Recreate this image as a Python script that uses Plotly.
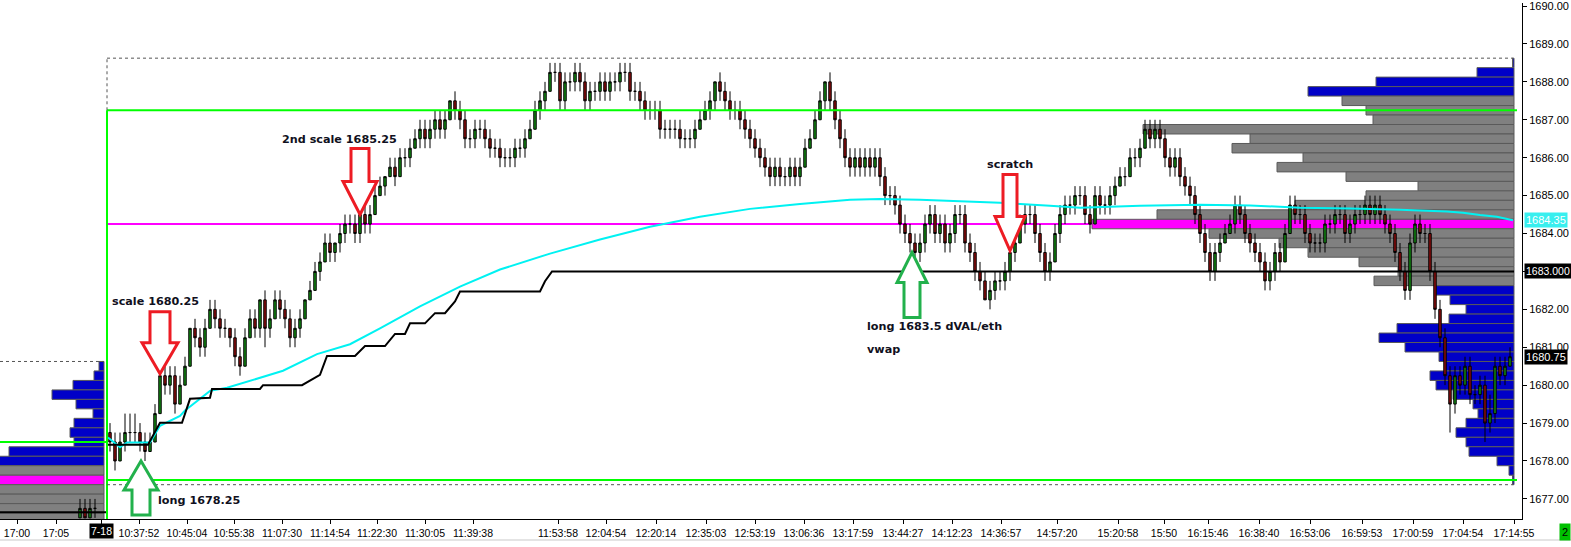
import plotly.graph_objects as go

# ---------------- data ----------------
TICK = 0.25
BASE_PRICE = 1677.0

# session bars: closes in quarter-point ticks above 1677.00
first_open_tick = 7
close_ticks = [
    6, 4, 6, 7, 7, 7, 6, 5, 6, 9,
    13, 12, 13, 10, 12, 14, 18, 17, 16, 18,
    20, 19, 18, 18, 17, 15, 14, 17, 19, 18,
    21, 18, 19, 21, 20, 19, 17, 18, 19, 21,
    22, 24, 25, 27, 26, 27, 28, 29, 29, 28,
    30, 29, 30, 32, 33, 34, 35, 34, 36, 36,
    37, 38, 39, 38, 39, 40, 39, 40, 42, 41,
    40, 38, 38, 39, 39, 38, 37, 37, 36, 36,
    36, 37, 37, 38, 39, 41, 42, 43, 45, 45,
    42, 44, 44, 45, 44, 42, 43, 43, 44, 43,
    44, 44, 45, 45, 43, 43, 42, 41, 41, 41,
    39, 39, 39, 39, 38, 38, 38, 39, 40, 41,
    42, 44, 43, 42, 41, 41, 40, 39, 38, 37,
    36, 35, 34, 35, 34, 34, 35, 34, 35, 37,
    38, 40, 42, 44, 42, 40, 38, 36, 35, 36,
    35, 36, 35, 36, 34, 32, 32, 31, 29, 28,
    27, 26, 27, 29, 30, 28, 29, 27, 28, 30,
    30, 27, 26, 24, 23, 21, 22, 23, 23, 24,
    26, 27, 29, 30, 30, 28, 26, 24, 25, 28,
    30, 31, 31, 32, 32, 30, 29, 32, 31, 31,
    32, 33, 34, 34, 36, 36, 37, 39, 38, 39,
    38, 36, 35, 36, 34, 33, 32, 30, 28, 26,
    24, 26, 27, 28, 29, 31, 30, 28, 27, 26,
    25, 23, 24, 26, 25, 28, 31, 30, 30, 28,
    27, 27, 27, 29, 29, 30, 30, 28, 29, 30,
    30, 31, 30, 31, 30, 29, 28, 26, 24, 22,
    27, 29, 28, 28, 24, 20, 17, 13, 10, 13,
    12, 14, 11, 11, 12, 8, 9, 14, 13, 14, 15,
]
# upper / lower wick length (ticks beyond the body)
hi_ext = [
    1, 1, 1, 2, 2, 2, 1, 1, 1, 1,
    0, 1, 1, 1, 1, 1, 0, 1, 1, 1,
    1, 1, 1, 1, 0, 1, 1, 1, 1, 1,
    0, 1, 1, 1, 1, 1, 1, 1, 1, 0,
    1, 1, 1, 1, 1, 0, 1, 1, 1, 1,
    1, 1, 1, 1, 1, 0, 1, 1, 1, 1,
    1, 1, 1, 1, 1, 1, 1, 1, 0, 1,
    1, 1, 1, 1, 1, 1, 1, 1, 1, 1,
    1, 1, 1, 1, 1, 1, 1, 1, 1, 1,
    1, 1, 1, 1, 1, 1, 1, 1, 1, 1,
    1, 1, 1, 1, 1, 1, 1, 1, 1, 1,
    1, 1, 1, 1, 1, 1, 1, 1, 1, 1,
    1, 0, 1, 1, 1, 1, 1, 1, 1, 1,
    1, 1, 1, 1, 1, 1, 1, 1, 1, 1,
    1, 1, 1, 0, 1, 1, 1, 1, 1, 1,
    1, 1, 1, 1, 1, 1, 1, 1, 1, 1,
    1, 1, 1, 1, 1, 1, 1, 1, 1, 1,
    1, 1, 1, 1, 1, 1, 1, 1, 1, 1,
    1, 1, 1, 1, 1, 1, 1, 1, 1, 1,
    1, 1, 1, 1, 1, 1, 1, 1, 1, 1,
    1, 1, 1, 1, 1, 1, 1, 1, 1, 1,
    1, 1, 1, 1, 1, 1, 1, 1, 1, 1,
    1, 1, 1, 1, 1, 1, 1, 1, 1, 1,
    1, 1, 1, 1, 1, 1, 1, 1, 1, 1,
    1, 1, 1, 1, 1, 1, 1, 1, 1, 1,
    1, 1, 1, 1, 1, 1, 1, 1, 1, 1,
    1, 1, 1, 1, 1, 1, 1, 1, 1, 1,
    1, 1, 1, 1, 1, 1, 2, 1, 1, 1, 1,
]
lo_ext = [
    1, 1, 0, 1, 1, 1, 1, 1, 0, 0,
    0, 1, 1, 1, 0, 0, 0, 1, 1, 1,
    0, 1, 1, 1, 1, 1, 1, 0, 0, 1,
    1, 2, 1, 0, 1, 1, 1, 1, 1, 0,
    0, 0, 1, 0, 1, 1, 1, 1, 1, 1,
    1, 1, 1, 0, 0, 1, 0, 1, 0, 1,
    1, 0, 1, 1, 1, 1, 1, 1, 0, 1,
    1, 1, 1, 1, 1, 1, 1, 1, 1, 1,
    1, 1, 1, 1, 0, 0, 1, 1, 0, 1,
    1, 1, 1, 1, 1, 1, 1, 1, 1, 1,
    1, 1, 1, 1, 1, 1, 1, 1, 1, 1,
    1, 1, 1, 1, 1, 1, 1, 1, 0, 0,
    1, 1, 1, 1, 1, 1, 1, 1, 1, 1,
    1, 1, 1, 1, 1, 1, 1, 1, 1, 0,
    0, 0, 0, 1, 1, 1, 1, 1, 1, 1,
    1, 1, 1, 1, 1, 1, 1, 1, 1, 1,
    1, 1, 1, 1, 1, 1, 1, 1, 1, 1,
    1, 1, 1, 1, 1, 0, 1, 1, 1, 1,
    1, 1, 0, 1, 1, 1, 1, 1, 1, 0,
    1, 1, 1, 1, 1, 1, 1, 0, 1, 1,
    1, 1, 0, 1, 0, 1, 1, 0, 1, 1,
    1, 1, 1, 1, 1, 1, 1, 1, 1, 1,
    1, 1, 1, 0, 0, 1, 1, 1, 1, 1,
    1, 1, 1, 1, 1, 0, 0, 1, 1, 1,
    1, 1, 1, 1, 1, 1, 1, 1, 1, 1,
    1, 1, 1, 1, 1, 1, 1, 1, 1, 1,
    1, 1, 1, 1, 1, 1, 1, 1, 3, 1,
    1, 1, 1, 1, 1, 2, 1, 1, 1, 1, 0,
]

# last bars of the previous session
prev_bar = [-6, -5, -4, -3]
prev_open = [1676.50, 1676.75, 1676.50, 1676.75]
prev_close = [1676.75, 1676.50, 1676.75, 1676.75]
prev_high = [1677.00, 1677.00, 1677.00, 1677.00]
prev_low = [1676.50, 1676.50, 1676.50, 1676.50]

# VWAP (cyan)
vwap_bar = [-0.4, 2, 3.4, 8, 10, 14, 15, 20, 23.4, 28, 34.6, 41.4, 48, 54, 62, 70, 78,
            88, 98, 108, 118, 128, 138, 148, 154, 162, 178, 188, 194, 206, 218, 228,
            238, 248, 258, 267.4, 270.6, 274, 277.4, 280.6]
vwap_price = [1678.62, 1678.36, 1678.49, 1678.49, 1678.93, 1679.19, 1679.33, 1679.85,
              1679.93, 1680.11, 1680.38, 1680.82, 1681.08, 1681.50, 1682.08, 1682.60,
              1683.05, 1683.47, 1683.84, 1684.18, 1684.44, 1684.65, 1684.78, 1684.89,
              1684.91, 1684.89, 1684.81, 1684.73, 1684.68, 1684.73, 1684.76, 1684.74,
              1684.68, 1684.66, 1684.63, 1684.58, 1684.55, 1684.49, 1684.44, 1684.35]

# developing value-area low (black step line)
dval_bar = [-22, -0.6, -0.6, 7.6, 10, 14.4, 16, 20, 20.4, 30, 30.6, 38.4, 42, 43.4, 49,
            51, 55, 57, 59, 60, 63, 65, 67, 69, 70, 86, 87, 88.4, 280.8]
dval_price = [1676.65, 1676.65, 1678.43, 1678.43, 1679.01, 1679.01, 1679.64, 1679.67,
              1679.90, 1679.90, 1680.00, 1680.00, 1680.27, 1680.77, 1680.77, 1681.03,
              1681.03, 1681.35, 1681.35, 1681.63, 1681.63, 1681.90, 1681.90, 1682.21,
              1682.47, 1682.47, 1682.74, 1683.00, 1683.00]

# session volume profile
profile_price = [1688.50, 1688.25, 1688.00, 1687.75, 1687.50, 1687.25, 1687.00, 1686.75,
                 1686.50, 1686.25, 1686.00, 1685.75, 1685.50, 1685.25, 1685.00, 1684.75,
                 1684.50, 1684.25, 1684.00, 1683.75, 1683.50, 1683.25, 1683.00, 1682.75,
                 1682.50, 1682.25, 1682.00, 1681.75, 1681.50, 1681.25, 1681.00, 1680.75,
                 1680.50, 1680.25, 1680.00, 1679.75, 1679.50, 1679.25, 1679.00, 1678.75,
                 1678.50, 1678.25, 1678.00, 1677.75, 1677.50]
profile_volume = [1.5, 37, 138, 206, 172, 148, 141, 371, 264, 282, 211, 237, 168, 96, 148,
                  219, 357, 422, 305, 235, 206, 155, 116, 140, 78, 64, 48, 65, 117, 135,
                  109, 75, 69, 84, 78, 61, 41, 36, 48, 58, 48, 45, 17, 5, 1.5]
value_area = (1682.75, 1687.50)
poc_price = 1684.25

# previous-session profile
prev_profile_price = [1680.50, 1680.25, 1680.00, 1679.75, 1679.50, 1679.25, 1679.00,
                      1678.75, 1678.50, 1678.25, 1678.00, 1677.75, 1677.50, 1677.25,
                      1677.00, 1676.75, 1676.50]
prev_profile_volume = [5, 10, 31, 52, 28, 11, 30, 34, 30, 95, 112, 130, 130, 130, 130, 130, 130]
prev_value_area = (1676.50, 1677.75)
prev_poc = 1677.50

# key levels
session_high = 1688.50
session_low = 1677.50
green_high = 1687.25
green_low = 1677.50
prev_green = 1678.50
prev_session_high = 1680.50
last_price = 1680.75
vwap_last = 1684.35
dval_last = 1683.00

time_bar = [-18.6, -10.8, -1.8, 5.8, 15.4, 24.8, 34.4, 44, 53.4, 63, 72.6, 89.6, 99.2,
            109.2, 119.2, 129, 138.8, 148.6, 158.6, 168.4, 178.2, 189.4, 201.6, 210.8,
            219.6, 229.8, 240, 250.4, 260.6, 270.6, 280.8]
time_labels = ["17:00", "17:05", "7-18", "10:37:52", "10:45:04", "10:55:38", "11:07:30",
               "11:14:54", "11:22:30", "11:30:05", "11:39:38", "11:53:58", "12:04:54",
               "12:20:14", "12:35:03", "12:53:19", "13:06:36", "13:17:59", "13:44:27",
               "14:12:23", "14:36:57", "14:57:20", "15:20:58", "15:50", "16:15:46",
               "16:38:40", "16:53:06", "16:59:53", "17:00:59", "17:04:54", "17:14:55"]
price_ticks = [1677, 1678, 1679, 1680, 1681, 1682, 1683, 1684, 1685, 1686, 1687, 1688, 1689, 1690]

notes = [  # text, bar, price
    ("2nd scale 1685.25", 34.0, 1686.49),
    ("scale 1680.25", 0.0, 1682.21),
    ("long 1678.25", 9.2, 1676.97),
    ("long 1683.5 dVAL/eth", 151.0, 1681.56),
    ("vwap", 151.0, 1680.95),
    ("scratch", 175.0, 1685.83),
]
arrows = [  # bar, price, direction, colour
    (10.0, 1680.30, "down", "#ed1c24"),
    (50.0, 1684.50, "down", "#ed1c24"),
    (6.2, 1678.00, "up", "#22b14c"),
    (160.4, 1683.50, "up", "#22b14c"),
    (180.0, 1683.55, "down", "#ed1c24"),
]
arrow_sizes = [(18, 10, 31, 62), (17, 9, 33, 66), (17, 9, 29, 54), (15, 8, 30, 65), (15, 7, 34, 76)]

# ---------------- layout constants ----------------
X_MIN, X_MAX = -22.0, 282.4
Y_MIN, Y_MAX = 1676.47, 1690.08
SESSION_START = -0.6
PROFILE_RIGHT = 280.8
PREV_PROFILE_RIGHT = -1.2
VOL_SCALE = 0.2

# ---------------- build bars ----------------
bar_idx = list(range(len(close_ticks)))
o_l, h_l, l_l, c_l = [], [], [], []
prev_t = first_open_tick
for c, hu, ld in zip(close_ticks, hi_ext, lo_ext):
    o = prev_t
    o_l.append(BASE_PRICE + o * TICK)
    c_l.append(BASE_PRICE + c * TICK)
    h_l.append(BASE_PRICE + (max(o, c) + hu) * TICK)
    l_l.append(BASE_PRICE + (min(o, c) - ld) * TICK)
    prev_t = c


def prof_colors(prices, va, poc):
    out = []
    for p in prices:
        if abs(p - poc) < 1e-9:
            out.append("#ff00ff")
        elif va[0] - 1e-9 <= p <= va[1] + 1e-9:
            out.append("#808080")
        else:
            out.append("#0000c8")
    return out


fig = go.Figure()

fig.add_trace(go.Bar(
    y=prev_profile_price, x=[-v * VOL_SCALE for v in prev_profile_volume],
    base=PREV_PROFILE_RIGHT, orientation="h", width=0.25,
    marker=dict(color=prof_colors(prev_profile_price, prev_value_area, prev_poc),
                line=dict(color="#5a5a5a", width=1)),
    hoverinfo="skip"))
fig.add_trace(go.Bar(
    y=profile_price, x=[-v * VOL_SCALE for v in profile_volume],
    base=PROFILE_RIGHT, orientation="h", width=0.25,
    marker=dict(color=prof_colors(profile_price, value_area, poc_price),
                line=dict(color="#5a5a5a", width=1)),
    hoverinfo="skip"))

candle_style = dict(
    increasing=dict(line=dict(color="black", width=1), fillcolor="#128c12"),
    decreasing=dict(line=dict(color="black", width=1), fillcolor="#8e0c0c"),
    whiskerwidth=0, hoverinfo="skip", showlegend=False)
fig.add_trace(go.Candlestick(x=prev_bar, open=prev_open, high=prev_high, low=prev_low,
                             close=prev_close, **candle_style))
fig.add_trace(go.Candlestick(x=bar_idx, open=o_l, high=h_l, low=l_l, close=c_l, **candle_style))

fig.add_trace(go.Scatter(x=vwap_bar, y=vwap_price, mode="lines",
                         line=dict(color="#00f2f2", width=2), hoverinfo="skip"))
fig.add_trace(go.Scatter(x=dval_bar, y=dval_price, mode="lines",
                         line=dict(color="black", width=2), hoverinfo="skip"))

shapes = []
# POC line (under the bars)
shapes.append(dict(type="line", xref="x", yref="y", x0=SESSION_START, x1=PROFILE_RIGHT,
                   y0=poc_price, y1=poc_price, line=dict(color="#ff00ff", width=2), layer="below"))
green = dict(color="#00ff00", width=2)
dash = dict(color="#555555", width=1, dash="3px,3px")
half = TICK / 2
shapes += [
    dict(type="line", xref="x", yref="y", x0=SESSION_START, x1=PROFILE_RIGHT + 0.6,
         y0=green_high, y1=green_high, line=green, layer="above"),
    dict(type="line", xref="x", yref="y", x0=SESSION_START, x1=PROFILE_RIGHT + 0.6,
         y0=green_low, y1=green_low, line=green, layer="above"),
    dict(type="line", xref="x", yref="y", x0=SESSION_START, x1=SESSION_START,
         y0=Y_MIN, y1=green_high, line=green, layer="above"),
    dict(type="line", xref="x", yref="y", x0=X_MIN, x1=SESSION_START,
         y0=prev_green, y1=prev_green, line=green, layer="above"),
    dict(type="line", xref="x", yref="y", x0=SESSION_START, x1=PROFILE_RIGHT - 0.2,
         y0=session_high + half, y1=session_high + half, line=dash, layer="above"),
    dict(type="line", xref="x", yref="y", x0=SESSION_START, x1=SESSION_START,
         y0=green_high, y1=session_high + half, line=dash, layer="above"),
    dict(type="line", xref="x", yref="y", x0=SESSION_START, x1=PROFILE_RIGHT - 0.2,
         y0=session_low - half, y1=session_low - half, line=dash, layer="above"),
    dict(type="line", xref="x", yref="y", x0=X_MIN, x1=PREV_PROFILE_RIGHT,
         y0=prev_session_high + half, y1=prev_session_high + half, line=dash, layer="above"),
]
for (bx, py, d, col), (hw, sw, hh, H) in zip(arrows, arrow_sizes):
    s = 1 if d == "down" else -1
    path = (f"M 0 0 L {hw} {s*hh} L {sw} {s*hh} L {sw} {s*H} L {-sw} {s*H} "
            f"L {-sw} {s*hh} L {-hw} {s*hh} Z")
    shapes.append(dict(type="path", xref="x", yref="y", xsizemode="pixel", ysizemode="pixel",
                       xanchor=bx, yanchor=py, path=path, fillcolor="white",
                       line=dict(color=col, width=3), layer="above"))
# bottom scrollbar strip
shapes.append(dict(type="line", xref="paper", yref="paper", x0=0, x1=1.04,
                   y0=-21 / 519, y1=-21 / 519, line=dict(color="#e4e4e4", width=2)))

annotations = []
for txt, bx, py in notes:
    annotations.append(dict(text=f"<b>{txt}</b>", x=bx, y=py, xref="x", yref="y",
                            xanchor="left", yanchor="middle", showarrow=False,
                            font=dict(family="DejaVu Sans", size=11.2, color="#101020")))
for val, txt, bg, fs in [(vwap_last, f"{vwap_last:.2f}", "#38efef", 11),
                         (dval_last, f"{dval_last:.3f}", "black", 10.5),
                         (last_price, f"{last_price:.2f}", "black", 11)]:
    annotations.append(dict(text=txt, x=1, xref="paper", xanchor="left", xshift=2,
                            y=val, yref="y", yanchor="middle", showarrow=False,
                            bgcolor=bg, borderpad=1,
                            font=dict(family="Liberation Sans", size=fs, color="white")))
annotations.append(dict(text="7-18", x=time_bar[2], xref="x", y=0, yref="paper",
                        yanchor="top", yshift=-4, showarrow=False, bgcolor="black",
                        borderpad=1, font=dict(family="Liberation Sans", size=10.5, color="white")))
annotations.append(dict(text="2", x=1571 / 1522, xref="paper", xanchor="right", y=0, yref="paper",
                        yanchor="top", yshift=-4, showarrow=False, bgcolor="#00c000",
                        borderpad=2, font=dict(family="Liberation Sans", size=11, color="black")))

# the 1683 tick label is covered by the black price tag in the original
y_ticktext = ["" if p == dval_last else f"{p:.2f}" for p in price_ticks]

fig.update_layout(
    width=1571, height=547,
    margin=dict(l=0, r=49, t=0, b=28),
    paper_bgcolor="white", plot_bgcolor="white",
    showlegend=False, barmode="overlay", boxgap=0.3, hovermode=False,
    font=dict(family="Liberation Sans", color="black"),
    shapes=shapes, annotations=annotations,
    xaxis=dict(range=[X_MIN, X_MAX], tickmode="array", tickvals=time_bar,
               ticktext=[("" if t == "7-18" else t) for t in time_labels],
               ticks="outside", ticklen=4, tickcolor="black", showline=True,
               linecolor="black", linewidth=1, showgrid=False, zeroline=False,
               rangeslider=dict(visible=False), tickfont=dict(size=10.5, color="black"),
               fixedrange=True, ticklabeloverflow="allow"),
    yaxis=dict(side="right", range=[Y_MIN, Y_MAX], tickmode="array", tickvals=price_ticks,
               ticktext=y_ticktext, ticks="outside", ticklen=4,
               tickcolor="black", showline=True, linecolor="black", linewidth=1,
               showgrid=False, zeroline=False, tickfont=dict(size=11, color="black"),
               fixedrange=True, ticklabeloverflow="allow"),
)

fig.write_html("out.html", config={"displayModeBar": False},
               post_script="document.body.style.margin='0px';document.body.style.overflow='hidden';")
